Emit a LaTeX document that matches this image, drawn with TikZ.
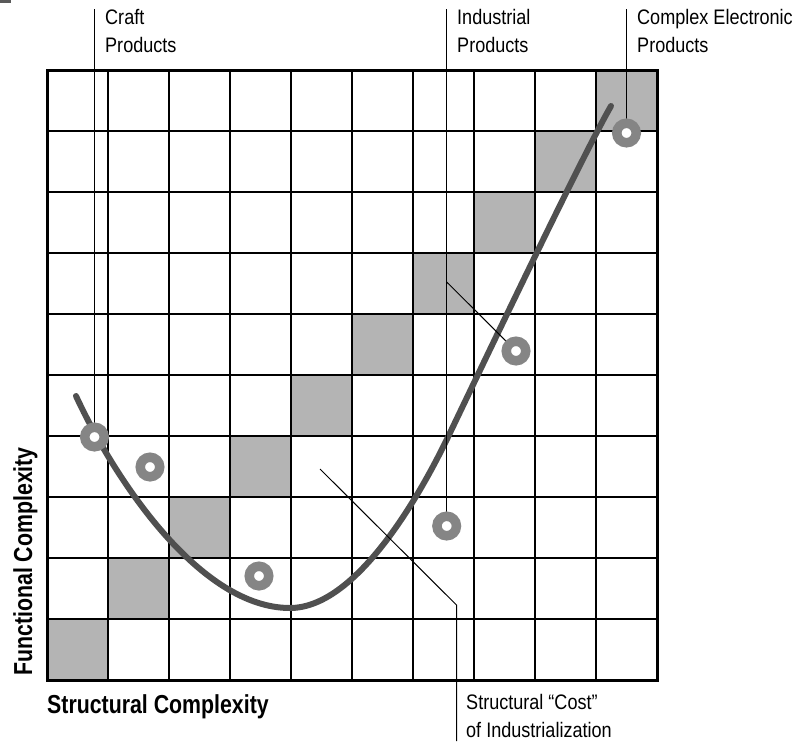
\documentclass[tikz,border=0pt]{standalone}
\usepackage{fontspec}
\newfontfamily\lightf{Liberation Sans}[FakeStretch=0.86]
\newfontfamily\boldf{Liberation Sans}[FakeStretch=0.82]
\definecolor{cellgray}{RGB}{180,180,180}
\definecolor{curvegray}{RGB}{80,80,80}
\definecolor{donutgray}{RGB}{133,133,133}
\definecolor{markgray}{RGB}{90,90,90}
\begin{document}
\begin{tikzpicture}[x=1pt,y=-1pt,
  gridline/.style={line width=1.2pt,black},
  frame/.style={line width=3pt,black},
  trend/.style={line width=6pt,curvegray,line cap=round},
  leader/.style={line width=1pt,black},
  donut/.style={circle,draw=donutgray,fill=white,line width=9.5pt,minimum size=19.5pt,inner sep=0pt},
  lbl/.style={font=\lightf\fontsize{21}{28}\selectfont,align=left,inner sep=0pt,anchor=base west},
  axislbl/.style={font=\boldf\bfseries\fontsize{26}{30}\selectfont,inner sep=0pt}]
\useasboundingbox (0,0) rectangle (798,742);
\fill[white] (0,0) rectangle (798,742);
\fill[markgray] (0,0) rectangle (11,3);
% diagonal cells
\foreach \i in {0,...,9}
  \fill[cellgray] ({47+61*\i},{680-61*(\i+1)}) rectangle ({47+61*(\i+1)},{680-61*\i});
% grid
\foreach \i in {1,...,9} {
  \draw[gridline] ({47+61*\i},70) -- ({47+61*\i},680);
  \draw[gridline] (47,{70+61*\i}) -- (657,{70+61*\i});
}
\draw[frame] (47,70) rectangle (657,680);
% curve
\draw[trend] (76,396) .. controls (115,480) and (200,608) .. (290,608)
  .. controls (355,608) and (417.6,500) .. (448,437)
  .. controls (474,383) and (581,158) .. (611,106);
% labels (anchored at the baseline of the last line)
\node[lbl] (craft) at (105,52) {Craft\\Products};
\node[lbl] (industrial) at (457,52) {Industrial\\Products};
\node[lbl] (complex) at (637,52) {Complex Electronic\\Products};
\node[lbl] (cost) at (466,737) {Structural “Cost”\\of Industrialization};
\node[axislbl,anchor=base west] (xlab) at (47,713) {Structural Complexity};
\node[axislbl,rotate=90,anchor=base] (ylab) at (32,561.5) {Functional Complexity};
% donut centres and leader ends
\coordinate (d1) at (94.5,437);
\coordinate (d2) at (150,467);
\coordinate (d3) at (259,576);
\coordinate (d4) at (446.7,526);
\coordinate (d5) at (516,351);
\coordinate (d6) at (626.5,133);
\coordinate (craftTop) at (94.5,9);
\coordinate (indTop) at (446.7,9);
\coordinate (cxTop) at (626.5,9);
\coordinate (indDiag) at (446.7,282);
\coordinate (costStart) at (320,469);
\coordinate (costBend) at (456.5,605);
\coordinate (costEnd) at (456.5,741);
% leaders
\draw[leader] (craftTop) -- (d1);
\draw[leader] (indTop) -- (d4);
\draw[leader] (cxTop) -- (d6);
\draw[leader] (indDiag) -- (d5);
\draw[leader] (costStart) -- (costBend) -- (costEnd);
% donuts
\node[donut] (n1) at (d1) {};
\node[donut] (n2) at (d2) {};
\node[donut] (n3) at (d3) {};
\node[donut] (n4) at (d4) {};
\node[donut] (n5) at (d5) {};
\node[donut] (n6) at (d6) {};
\end{tikzpicture}
\end{document}
